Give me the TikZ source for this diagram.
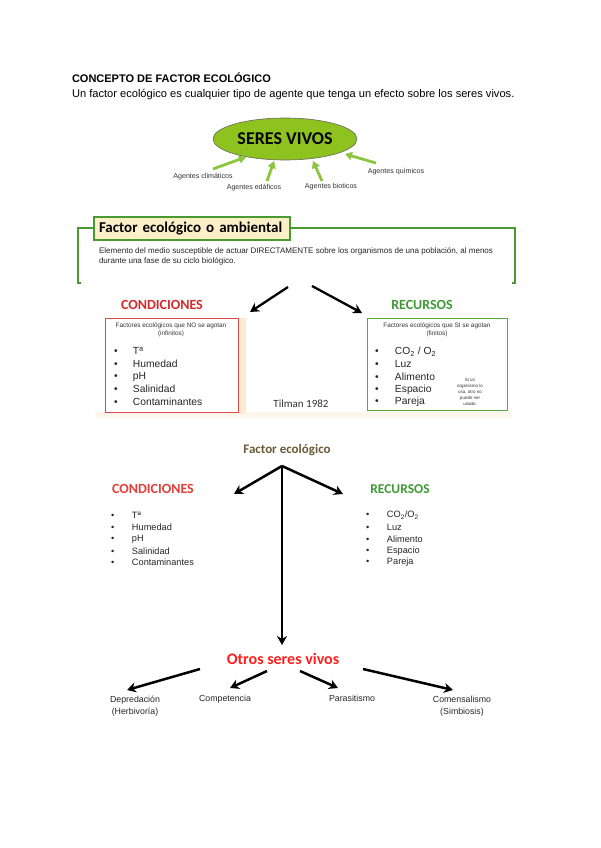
\documentclass[tikz,border=0pt]{standalone}
\usepackage{fontspec}
\setmainfont{Liberation Sans}
\newfontfamily\carl{Carlito}
\usetikzlibrary{shapes.geometric,arrows.meta}
\definecolor{svgreen}{HTML}{8DC21F}
\definecolor{agarrow}{HTML}{8CC63F}
\definecolor{framegreen}{HTML}{4A9A32}
\definecolor{hdrfill}{HTML}{FCEFC8}
\definecolor{condred}{HTML}{D42A2A}
\definecolor{condred2}{HTML}{E0403A}
\definecolor{recgreen}{HTML}{3F9A35}
\definecolor{boxred}{HTML}{DD4A48}
\definecolor{boxgreen}{HTML}{5BAA3C}
\definecolor{beige}{HTML}{FBEBD0}
\definecolor{fecol}{HTML}{6B5A36}
\definecolor{otrosred}{HTML}{FF1E1E}
\tikzset{
  txt/.style={inner sep=0pt, outer sep=0pt},
  agent/.style={txt, font=\fontsize{7.1}{9}\selectfont, text=black!80},
  garrow/.style={agarrow, line width=2.8pt, -{Triangle[length=7pt,width=8pt]}},
  barrow/.style={black, line width=2.3pt, -{Stealth[length=9pt,width=10pt]}},
  head/.style={txt, font=\carl\bfseries\fontsize{14}{16}\selectfont},
  item/.style={txt, anchor=west, font=\fontsize{10.3}{12}\selectfont, text=black!85},
  itemlow/.style={txt, anchor=west, font=\fontsize{9.2}{11}\selectfont, text=black!85},
  rel/.style={txt, align=center, font=\fontsize{8.8}{11.5}\selectfont, text=black!85},
}
\begin{document}
\begin{tikzpicture}[x=1pt,y=-1pt]
\useasboundingbox (0,0) rectangle (600,848);
\fill[white] (0,0) rectangle (600,848);

% ---- title ----
\node[txt, anchor=west, font=\bfseries\fontsize{11}{13}\selectfont] (title) at (72,78) {CONCEPTO DE FACTOR ECOLÓGICO};
\node[txt, anchor=west, font=\fontsize{11.1}{13}\selectfont] (subtitle) at (72,95) {Un factor ecológico es cualquier tipo de agente que tenga un efecto sobre los seres vivos.};

% ---- seres vivos ----
\node[ellipse, draw=black!60, line width=0.6pt, fill=svgreen, minimum width=144pt, minimum height=42pt, inner sep=0pt,
      font=\carl\bfseries\fontsize{18}{20}\selectfont] (sv) at (285,139) {SERES VIVOS};
\coordinate (c1) at (213,169);
\coordinate (c2) at (267,181);
\coordinate (c3) at (322,181);
\coordinate (c4) at (376,163);
\coordinate (c1e) at (246,157);
\coordinate (c2e) at (274,161);
\coordinate (c3e) at (313,161);
\coordinate (c4e) at (345,154);
\draw[garrow] (c1) -- (c1e);
\draw[garrow] (c2) -- (c2e);
\draw[garrow] (c3) -- (c3e);
\draw[garrow] (c4) -- (c4e);
\node[agent] (a1) at (203,177) {Agentes climáticos};
\node[agent] (a2) at (254,188) {Agentes edáficos};
\node[agent] (a3) at (331,187) {Agentes bioticos};
\node[agent] (a4) at (396,172) {Agentes químicos};

% ---- factor ecologico o ambiental frame ----
\draw[framegreen, line width=1.6pt] (81,283) -- (78,283) -- (78,228) -- (515,228) -- (515,283) -- (512,283);
\node[txt, draw=framegreen, line width=1.4pt, fill=hdrfill, anchor=north west, minimum width=196pt, minimum height=23pt,
      inner xsep=5pt, text width=186pt, font=\carl\bfseries\fontsize{15}{17}\selectfont] (hdr) at (94,217) {Factor ecológico o ambiental};
\node[txt, anchor=north west, align=left, font=\fontsize{8.05}{10}\selectfont, text=black!85] (def) at (99,248)
  {Elemento del medio susceptible de actuar DIRECTAMENTE sobre los organismos de una población, al menos\\durante una fase de su ciclo biológico.};

% ---- top arrows ----
\coordinate (t1) at (288,287);
\coordinate (t2) at (312,286);
\coordinate (t1e) at (250,312);
\coordinate (t2e) at (362,313);
\draw[barrow] (t1) -- (t1e);
\draw[barrow] (t2) -- (t2e);

\node[head, text=condred] (cond) at (162,305) {CONDICIONES};
\node[head, text=recgreen] (rec) at (422,305) {RECURSOS};

% faint band
\fill[beige!45] (95,412) rectangle (512,418);

% condiciones box
\fill[beige] (238,318) rectangle (246,414);
\draw[boxred, line width=1pt, fill=white] (105,318) rectangle (238,412);
\node[txt, align=center, font=\fontsize{6.4}{8}\selectfont, text=black!80] (condsub) at (171,330) {Factores ecológicos que NO se agotan\\(infinitos)};
\node[item] (ci1) at (114,351) {\makebox[19pt][l]{•}Tª};
\node[item] (ci2) at (114,364) {\makebox[19pt][l]{•}Humedad};
\node[item] (ci3) at (114,377) {\makebox[19pt][l]{•}pH};
\node[item] (ci4) at (114,389) {\makebox[19pt][l]{•}Salinidad};
\node[item] (ci5) at (114,402) {\makebox[19pt][l]{•}Contaminantes};

% recursos box
\draw[boxgreen, line width=1pt, fill=white] (367,318) rectangle (507,410);
\node[txt, align=center, font=\fontsize{6.4}{8}\selectfont, text=black!80] (recsub) at (437,330) {Factores ecológicos que SI se agotan\\(finitos)};
\node[item] (ri1) at (375,352) {\makebox[20pt][l]{•}CO\textsubscript{2} / O\textsubscript{2}};
\node[item] (ri2) at (375,364) {\makebox[20pt][l]{•}Luz};
\node[item] (ri3) at (375,377) {\makebox[20pt][l]{•}Alimento};
\node[item] (ri4) at (375,390) {\makebox[20pt][l]{•}Espacio};
\node[item] (ri5) at (375,402) {\makebox[20pt][l]{•}Pareja};
\node[txt, align=center, font=\fontsize{4.5}{6}\selectfont, text=black!80] (note) at (470,392) {Si un\\organismo lo\\usa, otro no\\puede ser\\usado.};

\node[txt, font=\carl\fontsize{11}{13}\selectfont, text=black!80] (tilman) at (301,404) {Tilman 1982};

% ---- lower diagram ----
\node[txt, font=\carl\bfseries\fontsize{13}{15}\selectfont, text=fecol] (fe) at (287,450) {Factor ecológico};
\coordinate (hub) at (282,466);
\coordinate (le) at (234,494);
\coordinate (re) at (343,494);
\coordinate (down) at (282,645);
\draw[barrow, line width=2.5pt] (hub) -- (le);
\draw[barrow, line width=2.5pt] (hub) -- (re);

\node[head, text=condred2] (cond2) at (153,489) {CONDICIONES};
\node[head, text=recgreen, font=\carl\bfseries\fontsize{13.5}{16}\selectfont] (rec2) at (400,489) {RECURSOS};

\node[itemlow] (li1) at (111,515) {\makebox[21pt][l]{•}Tª};
\node[itemlow] (li2) at (111,527) {\makebox[21pt][l]{•}Humedad};
\node[itemlow] (li3) at (111,539) {\makebox[21pt][l]{•}pH};
\node[itemlow] (li4) at (111,551) {\makebox[21pt][l]{•}Salinidad};
\node[itemlow] (li5) at (111,562) {\makebox[21pt][l]{•}Contaminantes};

\node[itemlow] (lr1) at (366,515) {\makebox[21pt][l]{•}CO\textsubscript{2}/O\textsubscript{2}};
\node[itemlow] (lr2) at (366,527) {\makebox[21pt][l]{•}Luz};
\node[itemlow] (lr3) at (366,539) {\makebox[21pt][l]{•}Alimento};
\node[itemlow] (lr4) at (366,551) {\makebox[21pt][l]{•}Espacio};
\node[itemlow] (lr5) at (366,562) {\makebox[21pt][l]{•}Pareja};

\node[txt, font=\carl\bfseries\fontsize{16}{18}\selectfont, text=otrosred] (otros) at (283,659) {Otros seres vivos};
\draw[barrow, line width=2.6pt] (hub) -- (down);

\coordinate (o1) at (200,669);
\coordinate (o2) at (267,671);
\coordinate (o3) at (300,671);
\coordinate (o4) at (363,669);
\coordinate (o1e) at (127,690);
\coordinate (o2e) at (230,688);
\coordinate (o3e) at (338,688);
\coordinate (o4e) at (453,690);
\node[rel] (dep) at (135,706) {Depredación\\(Herbivoría)};
\node[rel, anchor=north] (comp) at (225,695) {Competencia};
\node[rel, anchor=north] (para) at (352,695) {Parasitismo};
\node[rel] (com) at (462,706) {Comensalismo\\(Simbiosis)};
\draw[barrow, line width=2.5pt] (o1) -- (o1e);
\draw[barrow, line width=2.5pt] (o2) -- (o2e);
\draw[barrow, line width=2.5pt] (o3) -- (o3e);
\draw[barrow, line width=2.5pt] (o4) -- (o4e);
\end{tikzpicture}
\end{document}
